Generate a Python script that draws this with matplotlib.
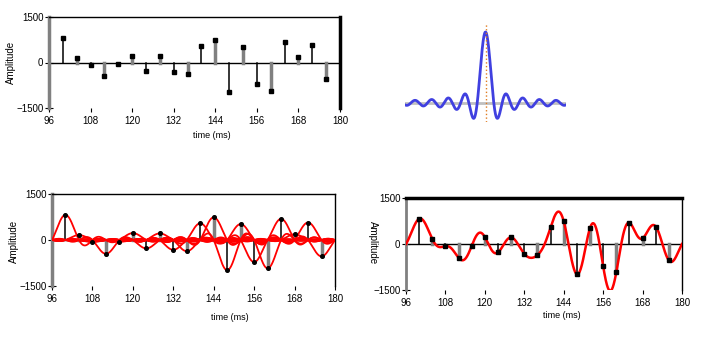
import numpy as np
import matplotlib.pyplot as plt

plt.rcParams['font.family'] = ['Liberation Sans', 'DejaVu Sans']

# sample times (ms) and amplitudes
sample_t = [100, 104, 108, 112, 116, 120, 124, 128, 132, 136,
            140, 144, 148, 152, 156, 160, 164, 168, 172, 176]
sample_v = [820, 160, -70, -450, -60, 225, -275, 215, -320, -365,
            545, 740, -985, 520, -720, -925, 690, 185, 570, -535]
x_ticks = [96, 108, 120, 132, 144, 156, 168, 180]
y_ticks = [-1500, 0, 1500]
period = 4.0

W, H = 712, 351
fig = plt.figure(figsize=(W / 100, H / 100), dpi=100)


def px_axes(x0, y0, x1, y1):
    return fig.add_axes([x0 / W, 1 - y1 / H, (x1 - x0) / W, (y1 - y0) / H])


def frame(ax, top_lw, right_lw):
    ax.set_xlim(96, 180)
    ax.set_ylim(-1500, 1500)
    ax.set_xticks(x_ticks)
    ax.set_yticks(y_ticks)
    ax.spines['bottom'].set_visible(False)
    ax.spines['top'].set_linewidth(top_lw)
    ax.spines['right'].set_linewidth(right_lw)
    ax.spines['left'].set_color('#808080')
    ax.spines['left'].set_linewidth(2.5)
    ax.tick_params(axis='y', direction='inout', length=6, width=0.8, labelsize=7, pad=1)
    ax.tick_params(axis='x', direction='out', length=3, width=0.8, labelsize=7, pad=3)
    ax.axhline(0, color='black', lw=1, zorder=1)


def stems(ax, marker, ms):
    for i, (t, v) in enumerate(zip(sample_t, sample_v)):
        if i % 2:
            ax.plot([t, t], [0, v], color='#808080', lw=2.5, zorder=2)
        else:
            ax.plot([t, t], [0, v], color='black', lw=1.1, zorder=2)
    ax.plot(sample_t, sample_v, marker, color='black', ms=ms, zorder=4)


tt = np.linspace(96, 180, 1500)
st = np.array(sample_t, dtype=float)
sv = np.array(sample_v, dtype=float)
comps = sv[:, None] * np.sinc((tt[None, :] - st[:, None]) / period)

# top-left: samples only
ax1 = px_axes(49, 17, 340, 108)
frame(ax1, 1.0, 2.5)
stems(ax1, 's', 2.2)
fig.text(11 / W, 1 - 62 / H, 'Amplitude', rotation=90, ha='center', va='center', fontsize=7)
fig.text(212 / W, 1 - 136 / H, 'time (ms)', ha='center', va='center', fontsize=6.5)

# top-right: sinc kernel
ax2 = px_axes(405, 24, 566, 122)
k = np.linspace(-9.7, 9.7, 800)
ax2.axhline(0, color='#c0c0c0', lw=2, zorder=1)
ax2.plot(k, np.sinc(k), color='#4040e0', lw=2, zorder=2)
ax2.axvline(0, color='#e07b20', lw=1, ls=':', zorder=3)
ax2.set_xlim(-9.7, 9.7)
ax2.set_ylim(-0.268, 1.113)
ax2.axis('off')

# bottom-left: individual sinc components
ax3 = px_axes(52, 194, 335, 286)
frame(ax3, 1.0, 1.0)
for c in comps:
    ax3.plot(tt, c, color='red', lw=1.3, zorder=3)
stems(ax3, 'o', 2.6)
fig.text(14 / W, 1 - 241 / H, 'Amplitude', rotation=90, ha='center', va='center', fontsize=7)
fig.text(230 / W, 1 - 317 / H, 'time (ms)', ha='center', va='center', fontsize=6.5)

# bottom-right: reconstructed signal
ax4 = px_axes(406, 198, 682, 290)
frame(ax4, 2.5, 1.0)
ax4.spines['left'].set_linewidth(2)
stems(ax4, 's', 2.2)
ax4.plot(tt, comps.sum(axis=0), color='red', lw=1.8, zorder=3)
fig.text(373 / W, 1 - 243 / H, 'Amplitude', rotation=-90, ha='center', va='center', fontsize=7)
fig.text(562 / W, 1 - 316 / H, 'time (ms)', ha='center', va='center', fontsize=6.5)

fig.savefig('out.png', dpi=100, facecolor='white')
